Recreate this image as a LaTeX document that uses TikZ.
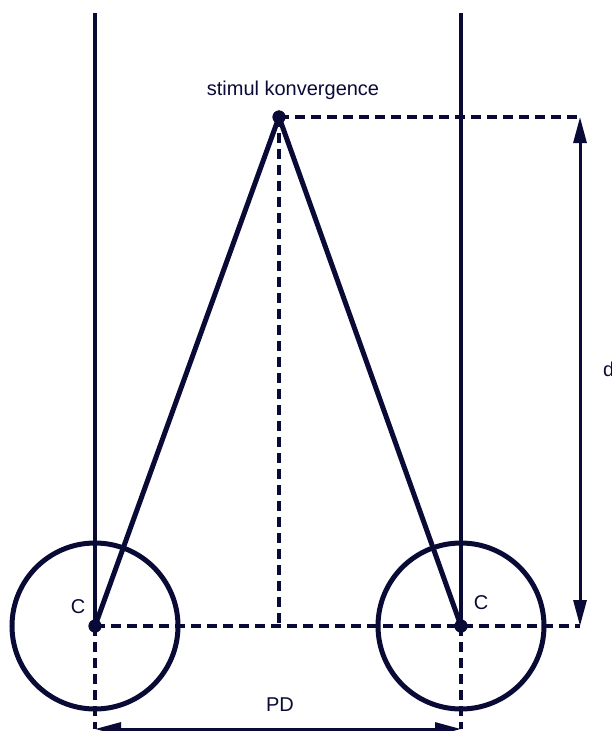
\documentclass[tikz,border=0pt]{standalone}
\usepackage{fontspec}
\setmainfont{Liberation Sans}
\usetikzlibrary{arrows.meta}
\definecolor{ink}{RGB}{10,10,55}
\begin{document}
\begin{tikzpicture}[x=1pt,y=-1pt,
  every node/.style={font=\fontsize{20}{22}\selectfont, text=ink, inner sep=0pt},
  solidline/.style={draw=ink, line width=5pt},
  eyeline/.style={draw=ink, line width=4.5pt},
  dashline/.style={draw=ink, line width=4pt, dash pattern=on 10pt off 6pt},
  dimarrow/.style={draw=ink, line width=3pt, {Triangle[length=26pt,width=13pt]}-{Triangle[length=26pt,width=13pt]}},
  pt/.style={circle, fill=ink, minimum size=13pt}]
\useasboundingbox (0,0) rectangle (612,731);
% points
\node[pt] (C1) at (95,626) {};
\node[pt] (C2) at (461,626) {};
\node[pt] (S) at (279,117) {};
\coordinate (T1) at (95,13);
\coordinate (T2) at (461,13);
\coordinate (Sr) at (580,117);
\coordinate (Cr) at (580,626);
\coordinate (Sb) at (279,626);
\coordinate (B1) at (95,729);
\coordinate (B2) at (461,729);
% circles
\draw[ink, line width=5pt] (C1.center) circle (83);
\draw[ink, line width=5pt] (C2.center) circle (83);
% eye lines
\draw[eyeline] (T1) -- (C1.center);
\draw[eyeline] (T2) -- (C2.center);
% dashed
\draw[dashline] (S.center) -- (Sr);
\draw[dashline] (C1.center) -- (Cr);
\draw[dashline] (S.center) -- (Sb);
\draw[dashline] (C1.center) -- (B1);
\draw[dashline] (C2.center) -- (B2);
% convergence lines
\draw[solidline] (C1.center) -- (S.center) -- (C2.center);
% dimension arrows
\draw[dimarrow] (Sr) -- (Cr);
\draw[dimarrow] (B1) -- (B2);
% redraw points on top
\fill[ink] (C1.center) circle (6.5);
\fill[ink] (C2.center) circle (6.5);
\fill[ink] (S.center) circle (6.5);
% labels
\node (lS) at (293,90) {stimul konvergence};
\node (lC1) at (78,607) {C};
\node (lC2) at (481,603) {C};
\node (lPD) at (280,705) {PD};
\node[anchor=west] (ld) at (603,369) {d};
\end{tikzpicture}
\end{document}
